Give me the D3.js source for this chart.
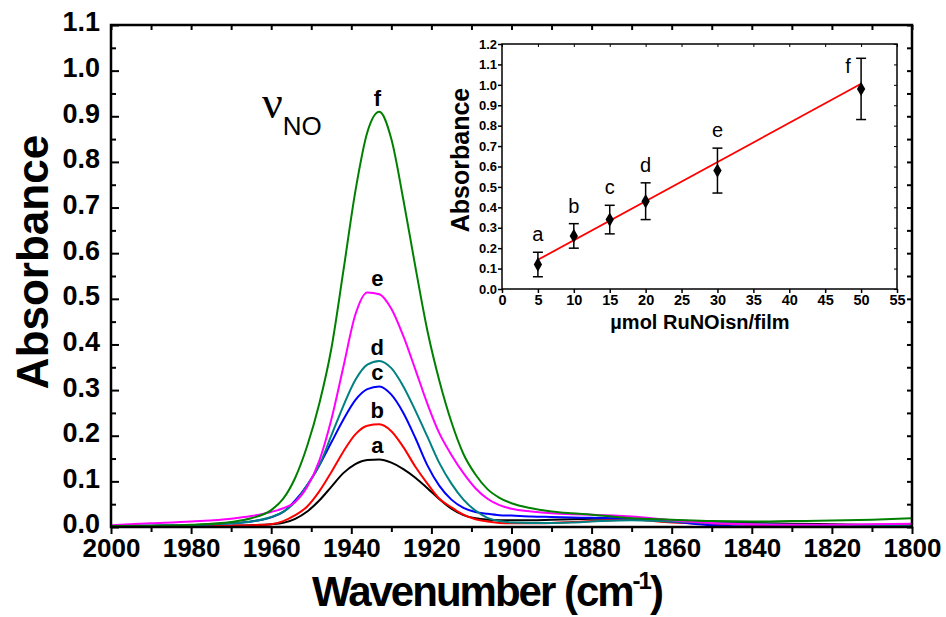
<!DOCTYPE html>
<html>
<head>
<meta charset="utf-8">
<script src="https://cdn.jsdelivr.net/npm/d3@7"></script>
<style>
  body { margin: 0; background: #fff; }
  svg { display: block; }
  text { font-family: "Liberation Sans", Arial, sans-serif; }
</style>
</head>
<body>
<script>
// spectra (wavenumber in cm-1, absorbance)
const wavenumber = [2000,1990,1980,1970,1965,1960,1957,1954,1951,1948,1945,1942,1939,1936,1933,1930,1927,1924,1921,1918,1915,1912,1909,1906,1903,1900,1895,1890,1885,1880,1870,1860,1850,1840,1830,1820,1810,1800];
const absA = [0.001,0.001,0.002,0.003,0.004,0.006,0.009,0.018,0.034,0.058,0.088,0.118,0.138,0.147,0.148,0.141,0.127,0.108,0.085,0.061,0.04,0.026,0.019,0.016,0.015,0.015,0.015,0.016,0.017,0.018,0.018,0.015,0.011,0.009,0.007,0.006,0.005,0.005];
const absB = [0.001,0.001,0.002,0.003,0.004,0.006,0.013,0.026,0.045,0.078,0.12,0.165,0.203,0.222,0.225,0.21,0.175,0.132,0.095,0.062,0.043,0.027,0.017,0.012,0.009,0.008,0.008,0.009,0.011,0.013,0.016,0.010,0.007,0.005,0.004,0.004,0.004,0.004];
const absC = [0.002,0.003,0.004,0.008,0.012,0.021,0.033,0.058,0.092,0.135,0.185,0.235,0.278,0.302,0.308,0.29,0.25,0.195,0.135,0.09,0.06,0.042,0.033,0.029,0.026,0.025,0.023,0.022,0.021,0.020,0.018,0.012,0.004,0.001,0.001,0.001,0.001,0.001];
const absD = [0.002,0.003,0.004,0.008,0.012,0.022,0.033,0.055,0.092,0.135,0.2,0.265,0.322,0.356,0.364,0.348,0.308,0.255,0.198,0.14,0.095,0.06,0.036,0.02,0.013,0.010,0.009,0.009,0.010,0.012,0.015,0.012,0.009,0.007,0.005,0.004,0.003,0.003];
const absE = [0.004,0.008,0.012,0.018,0.024,0.033,0.041,0.055,0.088,0.145,0.235,0.35,0.465,0.514,0.51,0.478,0.418,0.345,0.27,0.205,0.158,0.118,0.085,0.062,0.048,0.040,0.034,0.030,0.028,0.027,0.023,0.015,0.009,0.006,0.005,0.005,0.006,0.007];
const absF = [0.002,0.003,0.005,0.011,0.019,0.037,0.062,0.108,0.178,0.27,0.39,0.56,0.735,0.865,0.91,0.85,0.717,0.57,0.43,0.32,0.23,0.16,0.115,0.083,0.064,0.052,0.041,0.034,0.030,0.027,0.019,0.016,0.013,0.012,0.013,0.014,0.016,0.019];
const seriesLetters = ['a','b','c','d','e','f'];
const seriesColors = ['#000000','#ff0000','#0000ff','#008080','#ff00ff','#008000'];
const labelWavenumber = 1933.5;

// inset: absorbance vs amount of complex
const insetConc = [5,10,15,20,30,50];
const insetAbs = [0.12,0.26,0.34,0.43,0.58,0.98];
const insetErr = [0.06,0.06,0.07,0.09,0.11,0.15];
const fitConc = [5,50];
const fitAbs = [0.143,1.005];

const W = 946, H = 617;
const svg = d3.select('body').append('svg').attr('width', W).attr('height', H);

const m = {left:111, right:912, top:25, bottom:527};
const x = d3.scaleLinear().domain([2000,1800]).range([m.left, m.right]);
const y = d3.scaleLinear().domain([0,1.1]).range([m.bottom, m.top]);

// ---- main axes
function styleAxis(g, sw, fs) {
  g.select('.domain').remove();
  g.selectAll('line').attr('stroke','#000').attr('stroke-width', sw);
  g.selectAll('text').attr('fill','#000').style('font-size', fs+'px').style('font-weight','bold');
}
const fmt1 = d3.format('.1f');

svg.append('g').attr('transform',`translate(0,${m.bottom})`)
  .call(d3.axisBottom(x).tickValues(d3.range(2000,1799,-20)).tickSize(7).tickPadding(5).tickFormat(d3.format('d')))
  .call(g => styleAxis(g, 2, 26));
svg.append('g').attr('transform',`translate(0,${m.bottom})`)
  .call(d3.axisBottom(x).tickValues(d3.range(1990,1800,-20)).tickSize(5).tickFormat(''))
  .call(g => styleAxis(g, 2, 26));
svg.append('g').attr('transform',`translate(0,${m.top})`)
  .call(d3.axisTop(x).tickValues(d3.range(2000,1799,-10)).tickSize(-5).tickFormat(''))
  .call(g => styleAxis(g, 2, 26));

svg.append('g').attr('transform',`translate(${m.left},0)`)
  .call(d3.axisLeft(y).tickValues(d3.range(0,1.101,0.1)).tickSize(-8).tickPadding(11).tickFormat(fmt1))
  .call(g => styleAxis(g, 2, 27))
  .call(g => g.selectAll('text').attr('dy','0.22em'));
svg.append('g').attr('transform',`translate(${m.left},0)`)
  .call(d3.axisLeft(y).tickValues(d3.range(0.05,1.1,0.1)).tickSize(-5).tickFormat(''))
  .call(g => styleAxis(g, 2, 26));
svg.append('g').attr('transform',`translate(${m.right},0)`)
  .call(d3.axisRight(y).tickValues(d3.range(0,1.101,0.05)).tickSize(-5).tickFormat(''))
  .call(g => styleAxis(g, 2, 26));

// ---- spectra
const allAbs = [absA, absB, absC, absD, absE, absF];
const line = d3.line()
  .x((d,i) => x(wavenumber[i]))
  .y(d => y(d))
  .curve(d3.curveMonotoneX);

svg.append('g').selectAll('path')
  .data(allAbs)
  .join('path')
  .attr('d', line)
  .attr('fill','none')
  .attr('stroke', (d,i) => seriesColors[i])
  .attr('stroke-width', 2);

svg.append('g').selectAll('text')
  .data(allAbs)
  .join('text')
  .attr('x', x(labelWavenumber))
  .attr('y', d => y(d3.max(d)) - 6)
  .attr('text-anchor','middle')
  .style('font-size','22px').style('font-weight','bold')
  .text((d,i) => seriesLetters[i]);

// frame
svg.append('rect')
  .attr('x', m.left).attr('y', m.top)
  .attr('width', m.right-m.left).attr('height', m.bottom-m.top)
  .attr('fill','none').attr('stroke','#000').attr('stroke-width',2.5);

// nu NO
const nu = svg.append('text').attr('x',262).attr('y',118);
nu.append('tspan').style('font-family','"Liberation Serif", "Times New Roman", serif').style('font-size','46px').text('ν');
nu.append('tspan').attr('dy',17).style('font-size','26px').text('NO');

// axis titles
svg.append('text')
  .attr('transform','translate(48,262) rotate(-90)')
  .attr('text-anchor','middle')
  .style('font-size','44px').style('font-weight','bold')
  .text('Absorbance');

const xt = svg.append('text')
  .attr('x',487).attr('y',606)
  .attr('text-anchor','middle')
  .style('font-size','42px').style('font-weight','bold').style('letter-spacing','-2px');
xt.append('tspan').text('Wavenumber (cm');
xt.append('tspan').attr('dy',-17).style('font-size','24px').text('-1');
xt.append('tspan').attr('dy',17).text(')');

// ---- inset
const ix = d3.scaleLinear().domain([0,55]).range([502,897]);
const iy = d3.scaleLinear().domain([0,1.2]).range([289,44]);
const inset = svg.append('g');

inset.append('g').attr('transform',`translate(0,${iy(0)})`)
  .call(d3.axisBottom(ix).tickValues(d3.range(0,56,5)).tickSize(4).tickPadding(2))
  .call(g => styleAxis(g, 1.5, 14.5));
inset.append('g').attr('transform',`translate(${ix(0)},0)`)
  .call(d3.axisLeft(iy).tickValues(d3.range(0,1.201,0.1)).tickSize(4).tickPadding(1).tickFormat(fmt1))
  .call(g => styleAxis(g, 1.5, 13));
inset.append('g').attr('transform',`translate(0,${iy(1.2)})`)
  .call(d3.axisTop(ix).tickValues(d3.range(0,56,5)).tickSize(-3).tickFormat(''))
  .call(g => styleAxis(g, 1, 13));
inset.append('g').attr('transform',`translate(${ix(55)},0)`)
  .call(d3.axisRight(iy).tickValues(d3.range(0,1.201,0.1)).tickSize(-3).tickFormat(''))
  .call(g => styleAxis(g, 1, 13));

inset.append('rect')
  .attr('x', ix(0)).attr('y', iy(1.2))
  .attr('width', ix(55)-ix(0)).attr('height', iy(0)-iy(1.2))
  .attr('fill','none').attr('stroke','#000').attr('stroke-width',1.5);

// linear fit
inset.append('path')
  .datum(fitConc.map((c,i) => [c, fitAbs[i]]))
  .attr('d', d3.line().x(d => ix(d[0])).y(d => iy(d[1])))
  .attr('stroke','#ff0000').attr('stroke-width',1.8).attr('fill','none');

// error bars
const eb = inset.append('g').attr('stroke','#000').attr('stroke-width',1.5);
insetConc.forEach((c,i) => {
  const lo = iy(insetAbs[i]-insetErr[i]), hi = iy(insetAbs[i]+insetErr[i]), cx = ix(c);
  eb.append('line').attr('x1',cx).attr('x2',cx).attr('y1',lo).attr('y2',hi);
  eb.append('line').attr('x1',cx-5).attr('x2',cx+5).attr('y1',lo).attr('y2',lo);
  eb.append('line').attr('x1',cx-5).attr('x2',cx+5).attr('y1',hi).attr('y2',hi);
});

inset.append('g').selectAll('path')
  .data(insetConc)
  .join('path')
  .attr('transform', (c,i) => `translate(${ix(c)},${iy(insetAbs[i])})`)
  .attr('d', d3.symbol().type(d3.symbolDiamond).size(60))
  .attr('fill','#000');

inset.append('g').selectAll('text')
  .data(insetConc)
  .join('text')
  .attr('x', (c,i) => i === 5 ? ix(c) - 13 : ix(c))
  .attr('y', (c,i) => i === 5 ? iy(insetAbs[i]+insetErr[i]) + 15 : iy(insetAbs[i]+insetErr[i]) - 11)
  .attr('text-anchor','middle')
  .style('font-size','20px')
  .text((c,i) => seriesLetters[i]);

inset.append('text')
  .attr('transform','translate(469,160) rotate(-90)')
  .attr('text-anchor','middle')
  .style('font-size','25px').style('font-weight','bold')
  .text('Absorbance');
inset.append('text')
  .attr('x',700).attr('y',329)
  .attr('text-anchor','middle')
  .style('font-size','20px').style('font-weight','bold')
  .text('µmol RuNOisn/film');
</script>
</body>
</html>
